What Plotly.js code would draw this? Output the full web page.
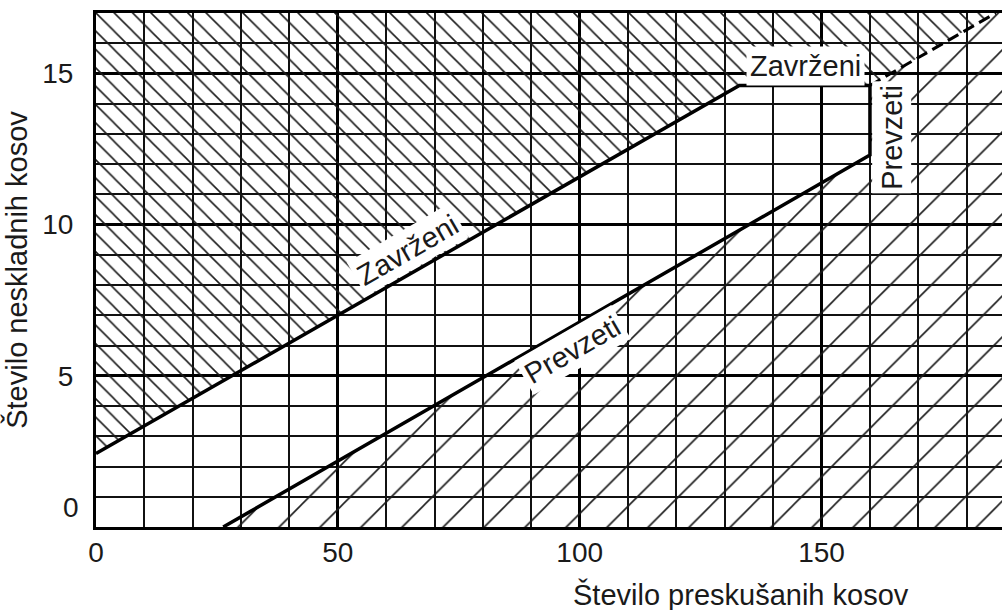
<!DOCTYPE html>
<html>
<head>
<meta charset="utf-8">
<script src="https://cdn.plot.ly/plotly-3.0.1.min.js"></script>
<style>html,body{margin:0;padding:0;background:#fff;}#chart{width:1002px;height:610px;}</style>
</head>
<body>
<div id="chart"></div>
<script>
// ---- data ----
const xTickVals = [0, 50, 100, 150];
const xTickText = ['0', '50', '100', '150'];
const yTickVals = [0, 5, 10, 15];
const yTickText = ['0', '5', '10', '15'];

// boundary lines
const rejectLineX = [0, 133, 160];
const rejectLineY = [2.43, 14.6, 14.6];
const acceptLineX = [160, 160, 26.3];
const acceptLineY = [14.6, 12.3, 0];
const dividerX = [160, 186];
const dividerY = [14.6, 17];

// hatched regions
const rejectRegionX = [0, 133, 160, 186, 0];
const rejectRegionY = [2.43, 14.6, 14.6, 17, 17];
const acceptRegionX = [26.3, 160, 160, 186, 190, 190];
const acceptRegionY = [0, 12.3, 14.6, 17, 17, 0];

// in-chart labels
const labelText = ['Zavrženi', 'Prevzeti', 'Zavrženi', 'Prevzeti'];
const labelX = [64.4, 98.5, 146.6, 164.4];
const labelY = [9.17, 5.86, 15.26, 12.88];
const labelAngle = [-30, -30, 0, -90];

const xTitle = 'Število preskušanih kosov';
const yTitle = 'Število neskladnih kosov';

// ---- chart ----
const FONT = 'Liberation Sans, Arial, Helvetica, sans-serif';
const INK = '#1a1a1a';

const traces = [
  {
    x: rejectRegionX, y: rejectRegionY, type: 'scatter', mode: 'none',
    fill: 'toself', fillcolor: 'rgba(0,0,0,0)',
    fillpattern: {shape: '\\', size: 13, solidity: 0.12, fgcolor: '#1a1a1a', bgcolor: 'rgba(0,0,0,0)'},
    hoverinfo: 'skip', showlegend: false
  },
  {
    x: acceptRegionX, y: acceptRegionY, type: 'scatter', mode: 'none',
    fill: 'toself', fillcolor: 'rgba(0,0,0,0)',
    fillpattern: {shape: '/', size: 29, solidity: 0.055, fgcolor: '#1a1a1a', bgcolor: 'rgba(0,0,0,0)'},
    hoverinfo: 'skip', showlegend: false
  },
  {
    x: rejectLineX.concat(acceptLineX.slice(1)), y: rejectLineY.concat(acceptLineY.slice(1)),
    type: 'scatter', mode: 'lines', line: {color: '#000', width: 3.5},
    hoverinfo: 'skip', showlegend: false
  },
  {
    x: dividerX, y: dividerY, type: 'scatter', mode: 'lines',
    line: {color: '#000', width: 3, dash: '12px,6px'},
    hoverinfo: 'skip', showlegend: false
  }
];

const annotations = labelText.map((t, i) => ({
  x: labelX[i], y: labelY[i], xref: 'x', yref: 'y', text: t,
  showarrow: false, textangle: labelAngle[i],
  font: {family: FONT, size: 29, color: INK},
  bgcolor: '#ffffff', borderpad: 3
}));

// y "0" label sits a little above the bottom edge in the reference
annotations.push({
  x: 0, xref: 'paper', xanchor: 'right', xshift: -15,
  y: 0.63, yref: 'y', yanchor: 'middle',
  text: yTickText[0], showarrow: false,
  font: {family: FONT, size: 28, color: INK}
});
// x axis title placed to the right
annotations.push({
  x: 0.712, xref: 'paper', xanchor: 'center',
  y: -0.132, yref: 'paper', yanchor: 'middle',
  text: xTitle, showarrow: false,
  font: {family: FONT, size: 29, color: INK}
});

const layout = {
  width: 1002, height: 610,
  margin: {l: 96, r: 0, t: 13, b: 83},
  paper_bgcolor: '#fff', plot_bgcolor: '#fff',
  showlegend: false,
  font: {family: FONT, size: 28, color: INK},
  xaxis: {
    range: [0, 187.3], fixedrange: true,
    tickmode: 'array', tickvals: xTickVals, ticktext: xTickText,
    ticks: '', ticklabelstandoff: -2,
    tickfont: {family: FONT, size: 28, color: INK},
    showgrid: true, gridcolor: '#000', gridwidth: 3,
    minor: {tickmode: 'linear', tick0: 0, dtick: 10, showgrid: true, gridcolor: '#111', gridwidth: 2, ticks: ''},
    zeroline: false, showline: true, linecolor: '#000', linewidth: 3, mirror: true
  },
  yaxis: {
    range: [0, 17], fixedrange: true,
    tickmode: 'array', tickvals: yTickVals, ticktext: ['', yTickText[1], yTickText[2], yTickText[3]],
    ticks: '', ticklabelstandoff: 14,
    tickfont: {family: FONT, size: 28, color: INK},
    showgrid: true, gridcolor: '#000', gridwidth: 3,
    minor: {tickmode: 'linear', tick0: 0, dtick: 1, showgrid: true, gridcolor: '#111', gridwidth: 2, ticks: ''},
    zeroline: false, showline: true, linecolor: '#000', linewidth: 3,
    title: {text: yTitle, font: {family: FONT, size: 29, color: INK}, standoff: 10}
  },
  annotations: annotations
};

Plotly.newPlot('chart', traces, layout, {staticPlot: true, displayModeBar: false});
</script>
</body>
</html>
